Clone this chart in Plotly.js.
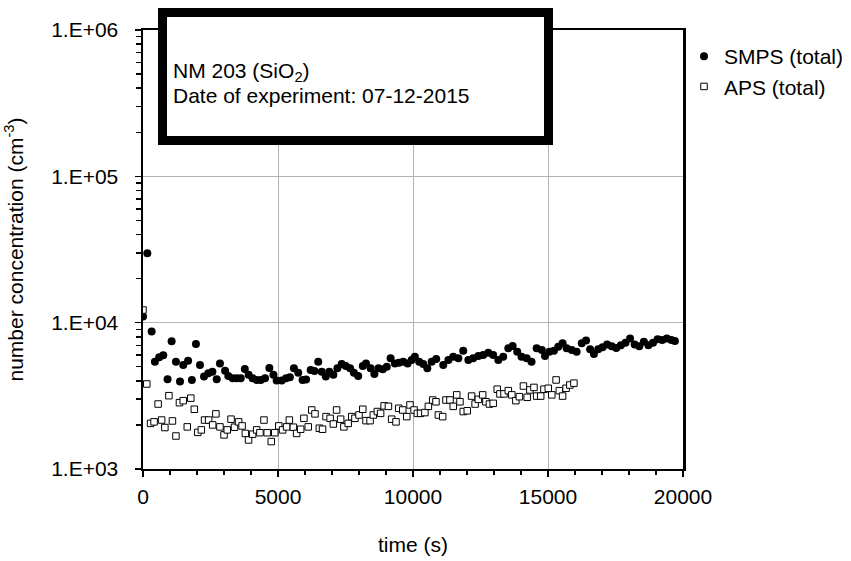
<!DOCTYPE html>
<html>
<head>
<meta charset="utf-8">
<script src="https://cdn.plot.ly/plotly-3.0.1.min.js"></script>
<style>html,body{margin:0;padding:0;background:#fff;}#chart{width:851px;height:561px;}</style>
</head>
<body>
<div id="chart"></div>
<script>
const smpsTime = [0,160,320,440,600,750,910,1060,1220,1370,1490,1670,1810,1960,2110,2260,2420,2570,2730,2850,3040,3160,3320,3470,3620,3770,3910,4060,4210,4360,4520,4680,4830,4950,5140,5300,5440,5590,5750,5910,6040,6210,6350,6490,6620,6770,6900,7050,7200,7360,7510,7670,7810,7970,8140,8260,8430,8570,8720,8880,9030,9170,9330,9480,9640,9800,9950,10070,10230,10380,10530,10690,10860,11120,11310,11490,11680,11860,12050,12230,12420,12600,12790,12970,13160,13340,13530,13690,13860,14020,14210,14390,14580,14770,14890,15050,15220,15380,15540,15690,15880,16060,16250,16410,16560,16700,16860,17020,17190,17360,17530,17700,17870,18040,18210,18380,18550,18720,18890,19060,19230,19400,19570,19700];
const smpsConc = [11000,29800,8700,5400,5800,6000,4100,7460,5400,3970,5140,5500,4050,7150,5140,4280,4510,4620,4100,5270,4700,4320,4170,4170,4170,4830,4400,4170,4060,4060,4170,4900,4400,4020,4020,4170,4240,4880,4550,4060,4090,4750,4680,5400,4620,4280,4620,4400,4880,5220,5060,4880,4550,4320,5060,5270,4880,4460,4880,4800,5000,5720,5270,5330,5400,5270,5560,5860,5400,5220,4880,5400,5650,5140,5560,5860,5710,6440,5560,5710,5920,6010,6240,6010,5560,5860,6690,6930,6340,5860,5710,5410,6690,6500,5920,6340,6440,6850,7220,6690,6500,6340,7220,7540,6580,6110,6580,6800,7100,6900,6700,7000,7300,7800,7100,6900,7400,7000,7300,7700,7600,7800,7600,7500];

const apsTime = [0,140,280,410,560,690,810,960,1090,1220,1350,1490,1640,1770,1900,2030,2160,2280,2430,2580,2700,2850,3000,3120,3260,3390,3540,3670,3790,3910,4060,4210,4330,4480,4600,4750,4880,5030,5170,5320,5420,5570,5690,5840,5960,6120,6250,6370,6530,6650,6780,6930,7050,7170,7320,7440,7600,7730,7850,8000,8140,8260,8410,8530,8680,8800,8930,9090,9210,9370,9470,9620,9770,9890,10040,10160,10280,10440,10570,10730,10850,10940,11100,11220,11370,11490,11620,11740,11860,12010,12170,12300,12420,12580,12700,12830,12970,13120,13220,13370,13530,13660,13810,13940,14090,14230,14330,14480,14580,14730,14850,15010,15140,15300,15420,15540,15670,15810,15960];
const apsConc = [12200,3810,2050,2100,2780,2160,1920,3170,2130,1680,2840,2930,1940,3050,2560,1780,1850,2160,2160,2000,2380,1940,1710,1850,2190,1930,2100,1970,1750,1580,1730,1850,1770,2160,1770,1540,1770,1970,1850,1940,2160,1930,1750,1870,2220,1940,2530,2380,1900,1870,2280,2220,2030,2530,2190,1940,2050,2280,2220,2340,2560,2140,2140,2340,2470,2400,2700,2680,2190,2100,2600,2530,2280,2740,2530,2400,2400,2430,2680,2960,2880,2340,2280,2960,2960,2680,3210,2880,2470,2500,3150,2780,2990,3210,2880,2780,2810,3510,3260,3260,3430,3210,2930,3120,3690,3090,3470,3610,3150,3150,3510,3560,3210,4060,3430,3150,3560,3750,3860];

const seriesNames = ['SMPS (total)', 'APS (total)'];
const yTickVals = [1e3, 1e4, 1e5, 1e6];
const yTickText = ['1.E+03', '1.E+04', '1.E+05', '1.E+06'];
const xTickVals = [0, 5000, 10000, 15000, 20000];
const xTickText = ['0', '5000', '10000', '15000', '20000'];
const infoLines = ['NM 203 (SiO<sub>2</sub>)', 'Date of experiment: 07-12-2015'];

const FONT = 'Arial, "Liberation Sans", sans-serif';

const traces = [
  {
    x: smpsTime, y: smpsConc, name: seriesNames[0], type: 'scatter', mode: 'markers',
    marker: {symbol: 'circle', size: 8, color: '#000000'}
  },
  {
    x: apsTime, y: apsConc, name: seriesNames[1], type: 'scatter', mode: 'markers',
    marker: {symbol: 'square', size: 6.5, color: '#ffffff', line: {color: '#000000', width: 1}}
  }
];

const L = 143, R = 683, T = 30, B = 469;
const px = v => (v - L) / (R - L);
const py = v => (B - v) / (B - T);

const layout = {
  width: 851, height: 561,
  margin: {l: L, r: 851 - R, t: T, b: 561 - B, pad: 0, autoexpand: false},
  paper_bgcolor: '#ffffff', plot_bgcolor: '#ffffff',
  font: {family: FONT, size: 21, color: '#000000'},
  showlegend: true,
  legend: {x: px(684), xanchor: 'left', y: py(36), yanchor: 'top', font: {family: FONT, size: 21, color: '#000'}, bgcolor: 'rgba(0,0,0,0)', tracegroupgap: 0},
  xaxis: {
    range: [0, 20000], tickmode: 'array', tickvals: xTickVals, ticktext: xTickText,
    ticks: 'outside', ticklen: 6, tickwidth: 1.5, tickcolor: '#000',
    showline: true, linecolor: '#000', linewidth: 2, mirror: true,
    showgrid: true, gridcolor: '#b3b3b3', gridwidth: 1, zeroline: false,
    ticklabelstandoff: 2, automargin: false,
    minor: {dtick: 1000, ticks: 'outside', ticklen: 4, tickcolor: '#000', showgrid: false},
    tickfont: {family: FONT, size: 21, color: '#000'},
    title: {text: 'time (s)', font: {family: FONT, size: 21, color: '#000'}, standoff: 30}
  },
  yaxis: {
    type: 'log', range: [3, 6], tickmode: 'array', tickvals: yTickVals, ticktext: yTickText,
    ticks: 'outside', ticklen: 6, tickwidth: 1.5, tickcolor: '#000',
    showline: true, linecolor: '#000', linewidth: 2.5, mirror: true,
    showgrid: true, gridcolor: '#b3b3b3', gridwidth: 1, zeroline: false,
    ticklabelstandoff: 12, automargin: false,
    minor: {dtick: 'D1', ticks: 'outside', ticklen: 5, tickcolor: '#000', showgrid: false},
    tickfont: {family: FONT, size: 21, color: '#000'},
    title: {text: 'number concentration (cm<sup>-3</sup>)', font: {family: FONT, size: 21, color: '#000'}, standoff: 22}
  },
  shapes: [
    {type: 'rect', xref: 'paper', yref: 'paper', x0: px(162.5), x1: px(548.5), y0: py(140.5), y1: py(12.5),
     line: {color: '#000', width: 9}, fillcolor: '#ffffff', layer: 'above'}
  ],
  annotations: [
    {xref: 'paper', yref: 'paper', x: px(171), y: py(72), xanchor: 'left', yanchor: 'middle', text: infoLines[0], showarrow: false, align: 'left', font: {family: FONT, size: 21, color: '#000'}},
    {xref: 'paper', yref: 'paper', x: px(171), y: py(95.5), xanchor: 'left', yanchor: 'middle', text: infoLines[1], showarrow: false, align: 'left', font: {family: FONT, size: 21, color: '#000'}}
  ]
};

Plotly.newPlot('chart', traces, layout, {staticPlot: true, displayModeBar: false});
</script>
</body>
</html>
